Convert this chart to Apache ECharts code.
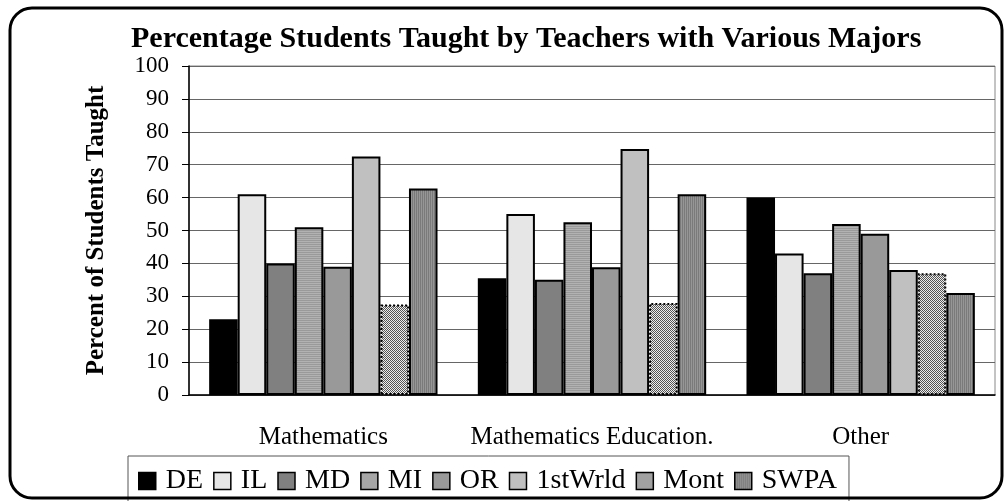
<!DOCTYPE html>
<html>
<head>
<meta charset="utf-8">
<script src="https://cdn.jsdelivr.net/npm/echarts@6/dist/echarts.min.js"></script>
<style>
html, body { margin: 0; padding: 0; background: #fff; }
#main { width: 1005px; height: 501px; }
</style>
</head>
<body>
<div id="main"></div>
<script>
var categories = ['Mathematics', 'Mathematics Education.', 'Other'];
var seriesNames = ['DE', 'IL', 'MD', 'MI', 'OR', '1stWrld', 'Mont', 'SWPA'];
var DE = [23, 35.5, 60];
var IL = [61, 55, 43];
var MD = [40, 35, 37];
var MI = [51, 52.5, 52];
var OR = [39, 38.8, 49];
var firstWrld = [72.5, 74.8, 38];
var Mont = [27.5, 28, 37];
var SWPA = [62.8, 61, 31];
var yTicks = [0, 100, 10];

var serif = "'Liberation Serif', 'Times New Roman', serif";

// little canvas tiles for the hatched fills
function tile(w, h, cells) {
    var c = document.createElement('canvas');
    c.width = w; c.height = h;
    var ctx = c.getContext('2d');
    for (var i = 0; i < cells.length; i++) {
        ctx.fillStyle = cells[i][2];
        ctx.fillRect(cells[i][0], cells[i][1], 1, 1);
    }
    return { image: c, repeat: 'repeat' };
}
var checker = tile(2, 2, [[0, 0, '#555'], [1, 1, '#555'], [1, 0, '#eee'], [0, 1, '#eee']]);
var hStripe = tile(1, 2, [[0, 0, '#9a9a9a'], [0, 1, '#b2b2b2']]);
var vStripe = tile(2, 1, [[0, 0, '#7a7a7a'], [1, 0, '#969696']]);

var values = [DE, IL, MD, MI, OR, firstWrld, Mont, SWPA];
var fills = ['#000000', '#e6e6e6', '#808080', hStripe, '#999999', '#c0c0c0', checker, vStripe];

var series = [];
for (var i = 0; i < seriesNames.length; i++) {
    series.push({
        name: seriesNames[i],
        type: 'bar',
        data: values[i],
        barGap: '0%',
        barCategoryGap: '15%',
        itemStyle: {
            color: fills[i],
            borderColor: '#000',
            borderWidth: 2,
            borderType: seriesNames[i] === 'Mont' ? 'dotted' : 'solid'
        },
        emphasis: { disabled: true }
    });
}

var myChart = echarts.init(document.getElementById('main'));

option = {
    animation: false,
    backgroundColor: '#fff',
    title: {
        text: 'Percentage Students Taught by Teachers with Various Majors',
        left: 131,
        top: 24,
        padding: 0,
        textStyle: { fontFamily: serif, fontWeight: 'bold', fontSize: 30, color: '#000' }
    },
    legend: {
        data: seriesNames,
        left: 128,
        top: 456,
        padding: [11, 12, 14, 10],
        itemGap: 10,
        itemWidth: 17,
        itemHeight: 17,
        icon: 'rect',
        borderColor: '#555',
        borderWidth: 1,
        itemStyle: { borderWidth: 1.5, borderType: 'solid' },
        textStyle: { fontFamily: serif, fontSize: 28, color: '#000', padding: [0, 0, 0, 5] }
    },
    grid: {
        left: 189,
        right: 10,
        top: 66,
        bottom: 106,
        show: true,
        borderColor: '#888',
        borderWidth: 1
    },
    xAxis: {
        type: 'category',
        data: categories,
        axisLine: { lineStyle: { color: '#000', width: 1.5 } },
        axisTick: { length: 8, lineStyle: { color: '#000' } },
        axisLabel: { fontFamily: serif, fontSize: 25, color: '#000', margin: 30, interval: 0 }
    },
    yAxis: {
        type: 'value',
        min: yTicks[0],
        max: yTicks[1],
        interval: yTicks[2],
        name: 'Percent of Students Taught',
        nameLocation: 'middle',
        nameGap: 80,
        nameTextStyle: { fontFamily: serif, fontWeight: 'bold', fontSize: 25, color: '#000' },
        axisLine: { show: true, lineStyle: { color: '#000', width: 1.5 } },
        axisTick: { show: true, length: 7, lineStyle: { color: '#000' } },
        axisLabel: { fontFamily: serif, fontSize: 23, color: '#000', margin: 20 },
        splitLine: { lineStyle: { color: '#666' } }
    },
    graphic: [{
        type: 'rect',
        shape: { x: 10, y: 8, width: 992, height: 490, r: 22 },
        style: { fill: 'none', stroke: '#000', lineWidth: 3 },
        silent: true,
        z: 100
    }],
    series: series
};

myChart.setOption(option);
</script>
</body>
</html>
